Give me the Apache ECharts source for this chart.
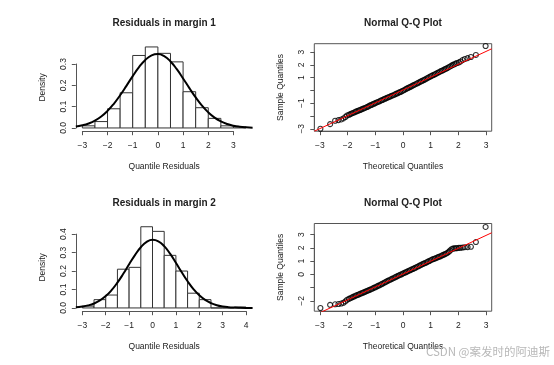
<!DOCTYPE html>
<html><head><meta charset="utf-8">
<script src="https://cdn.jsdelivr.net/npm/echarts@6/dist/echarts.min.js"></script>
<style>html,body{margin:0;padding:0;background:#fff}#c{width:554px;height:365px}</style>
</head><body><div id="c"></div>
<script>
// ---------------- data ----------------
const histBreaks1 = [-3,-2.5,-2,-1.5,-1,-0.5,0,0.5,1,1.5,2,2.5,3,3.5];
const histDensity1 = [0.01,0.03,0.09,0.165,0.34,0.38,0.35,0.31,0.17,0.095,0.045,0.01,0.005];
const curveX1 = [-3.26,-3,-2.75,-2.5,-2.25,-2,-1.75,-1.5,-1.25,-1,-0.75,-0.5,-0.25,0,0.25,0.5,0.75,1,1.25,1.5,1.75,2,2.25,2.5,2.75,3,3.25,3.5,3.76];
const curveY1 = [0.0066,0.0124,0.0212,0.0346,0.0538,0.0800,0.1134,0.1533,0.1976,0.2431,0.2852,0.3191,0.3406,0.3468,0.3368,0.3120,0.2756,0.2323,0.1867,0.1432,0.1047,0.0730,0.0486,0.0309,0.0187,0.0108,0.0059,0.0031,0.0015];

const histBreaks2 = [-3,-2.5,-2,-1.5,-1,-0.5,0,0.5,1,1.5,2,2.5,3,3.5,4];
const histDensity2 = [0.01,0.045,0.07,0.21,0.22,0.44,0.415,0.285,0.2,0.08,0.045,0,0,0.005];
const curveX2 = [-3.28,-3,-2.75,-2.5,-2.25,-2,-1.75,-1.5,-1.25,-1,-0.75,-0.5,-0.25,0,0.25,0.5,0.75,1,1.25,1.5,1.75,2,2.25,2.5,2.75,3,3.25,3.5,3.75,4,4.28];
const curveY2 = [0.0035,0.0074,0.0138,0.0243,0.0406,0.0643,0.0964,0.1372,0.1850,0.2365,0.2865,0.3290,0.3580,0.3693,0.3611,0.3347,0.2940,0.2448,0.1931,0.1445,0.1024,0.0688,0.0438,0.0265,0.0151,0.0082,0.0042,0.0021,0.0010,0.0004,0.0002];

const qqTheo = [-2.98,-2.63,-2.45,-2.33,-2.23,-2.15,-2.08,-2.02,
 -1.95,-1.9,-1.85,-1.8,-1.75,-1.7,-1.65,-1.6,-1.55,-1.5,-1.45,-1.4,-1.35,-1.3,-1.25,-1.2,-1.15,-1.1,-1.05,-1,
 -0.95,-0.9,-0.85,-0.8,-0.75,-0.7,-0.65,-0.6,-0.55,-0.5,-0.45,-0.4,-0.35,-0.3,-0.25,-0.2,-0.15,-0.1,-0.05,0,
 0.05,0.1,0.15,0.2,0.25,0.3,0.35,0.4,0.45,0.5,0.55,0.6,0.65,0.7,0.75,0.8,0.85,0.9,0.95,1,
 1.05,1.1,1.15,1.2,1.25,1.3,1.35,1.4,1.45,1.5,1.55,1.6,1.65,1.7,1.75,1.8,1.85,1.9,1.95,
 2.02,2.08,2.15,2.23,2.33,2.45,2.63,2.98];
const qqSample1 = [-3.00,-2.64,-2.37,-2.32,-2.27,-2.19,-2.08,-1.96,
 -1.90,-1.85,-1.80,-1.76,-1.71,-1.66,-1.62,-1.57,-1.53,-1.48,-1.44,-1.39,-1.35,-1.30,-1.25,-1.19,-1.14,-1.09,-1.04,-0.99,
 -0.94,-0.90,-0.85,-0.80,-0.75,-0.70,-0.65,-0.60,-0.55,-0.51,-0.46,-0.41,-0.37,-0.32,-0.27,-0.22,-0.17,-0.12,-0.07,-0.02,
 0.04,0.10,0.16,0.21,0.27,0.32,0.38,0.43,0.49,0.54,0.60,0.65,0.71,0.76,0.82,0.87,0.93,0.99,1.05,1.11,
 1.16,1.21,1.27,1.32,1.38,1.43,1.49,1.54,1.59,1.65,1.70,1.76,1.82,1.88,1.94,2.00,2.05,2.10,2.15,
 2.20,2.27,2.38,2.46,2.53,2.62,2.78,3.48];
const qqSample2 = [-2.54,-2.30,-2.26,-2.24,-2.20,-2.14,-2.04,-1.92,
 -1.85,-1.80,-1.75,-1.70,-1.65,-1.60,-1.56,-1.52,-1.47,-1.43,-1.39,-1.34,-1.30,-1.25,-1.21,-1.17,-1.12,-1.07,-1.02,-0.97,
 -0.92,-0.87,-0.82,-0.77,-0.71,-0.66,-0.60,-0.55,-0.49,-0.44,-0.39,-0.34,-0.29,-0.24,-0.18,-0.13,-0.08,-0.03,0.01,0.07,
 0.11,0.16,0.21,0.26,0.31,0.36,0.40,0.45,0.50,0.56,0.61,0.66,0.71,0.77,0.81,0.86,0.91,0.96,1.01,1.07,
 1.12,1.16,1.20,1.24,1.28,1.33,1.37,1.42,1.47,1.51,1.56,1.62,1.70,1.80,1.90,1.94,1.96,1.97,1.98,
 2.00,2.01,2.03,2.05,2.06,2.08,2.44,3.58];
const qqLine1 = [0.035, 1.008];   // intercept, slope
const qqLine2 = [0.023, 0.974];

const qqYLabels1 = [-3,-1,1,2,3];
const qqYLabels2 = [-2,0,1,2,3];

const titles = ['Residuals in margin 1','Normal Q-Q Plot','Residuals in margin 2','Normal Q-Q Plot'];
const xTitles = ['Quantile Residuals','Theoretical Quantiles'];
const yTitles = ['Density','Sample Quantiles'];

// ---------------- layout ----------------
const FONT = '"Liberation Sans", Arial, Helvetica, sans-serif';
const FS = 8.5;
const AX = '#555';
const TX = '#222';
const P = {
  h1:{left:75.8, top:43.7, width:176.8, height:87.5, xmin:-3.26, xmax:3.76, ymin:-0.0152, ymax:0.3952, xt:[-3,3], yt:[0,0.3], yi:0.1},
  q1:{left:314.3, top:43.7, width:177.4, height:87.5, xmin:-3.2, xmax:3.2, ymin:-3.19, ymax:3.66, xt:[-3,3], yt:[-3,3], yi:1},
  h2:{left:75.8, top:223.5, width:176.8, height:87.7, xmin:-3.28, xmax:4.28, ymin:-0.0176, ymax:0.4576, xt:[-3,4], yt:[0,0.4], yi:0.1},
  q2:{left:314.3, top:223.5, width:177.4, height:87.7, xmin:-3.2, xmax:3.2, ymin:-2.78, ymax:3.84, xt:[-3,3], yt:[-2,3], yi:1}
};
const px = (p,v) => p.left + (v - p.xmin)/(p.xmax - p.xmin)*p.width;
const py = (p,v) => p.top + (p.ymax - v)/(p.ymax - p.ymin)*p.height;
const minus = s => String(s).replace('-', '\u2212');

const grids = [], xAxes = [], yAxes = [], series = [], graphic = [];
const lbl = (extra) => Object.assign({fontSize:FS, color:TX, fontFamily:FONT, showMinLabel:true, showMaxLabel:true}, extra);

function panel(p, isQQ, yFmt) {
  const gi = grids.length;
  grids.push({left:p.left, top:p.top, width:p.width, height:p.height, show:isQQ, borderColor:AX, borderWidth:1, backgroundColor:'transparent', outerBoundsMode:'none'});
  xAxes.push({type:'value', gridIndex:gi, min:p.xmin, max:p.xmax, show:false});
  yAxes.push({type:'value', gridIndex:gi, min:p.ymin, max:p.ymax, show:false});
  const x0 = px(p,p.xt[0]), x1 = px(p,p.xt[1]), by = p.top + p.height;
  grids.push({left:x0, top:by-20, width:x1-x0, height:20, outerBoundsMode:'none'});
  xAxes.push({type:'value', gridIndex:gi+1, min:p.xt[0], max:p.xt[1], interval:1,
    axisLine:{show:true, onZero:false, lineStyle:{color:AX, width:1}},
    axisTick:{show:true, length:4, lineStyle:{color:AX, width:1}},
    axisLabel:lbl({margin:10, formatter:v => minus(Math.round(v))}),
    splitLine:{show:false}});
  yAxes.push({type:'value', gridIndex:gi+1, min:0, max:1, show:false});
  const y0 = py(p,p.yt[0]), y1 = py(p,p.yt[1]);
  grids.push({left:p.left, top:y1, width:20, height:y0-y1, outerBoundsMode:'none'});
  xAxes.push({type:'value', gridIndex:gi+2, min:0, max:1, show:false});
  yAxes.push({type:'value', gridIndex:gi+2, min:p.yt[0], max:p.yt[1], interval:p.yi,
    axisLine:{show:true, onZero:false, lineStyle:{color:AX, width:1}},
    axisTick:{show:true, length:4, lineStyle:{color:AX, width:1}},
    axisLabel:lbl({margin:8, rotate:90, formatter:yFmt}),
    splitLine:{show:false}});
  return gi;
}

function histPanel(p, breaks, dens, cx, cy, ti) {
  const gi = panel(p, false, v => (Math.round(v*10)/10).toFixed(1));
  series.push({type:'custom', xAxisIndex:gi, yAxisIndex:gi, silent:true,
    data: dens.map((d,i) => [breaks[i], breaks[i+1], d]),
    renderItem: (params, api) => {
      const a = api.coord([api.value(0), 0]);
      const b = api.coord([api.value(1), api.value(2)]);
      return {type:'rect', shape:{x:a[0], y:b[1], width:b[0]-a[0], height:a[1]-b[1]},
        style:{fill:'#fff', stroke:'#333', lineWidth:1}};
    }});
  series.push({type:'line', xAxisIndex:gi, yAxisIndex:gi, silent:true, smooth:true, symbol:'none',
    data: cx.map((x,i) => [x, cy[i]]), lineStyle:{color:'#000', width:2}, z:3});
  addTexts(p, ti, 0);
}

function qqPanel(p, sample, line, ylabs, ti) {
  const gi = panel(p, true, v => ylabs.indexOf(Math.round(v)) >= 0 ? minus(Math.round(v)) : '');
  series.push({type:'scatter', xAxisIndex:gi, yAxisIndex:gi, silent:true, symbol:'circle', symbolSize:5,
    data: qqTheo.map((x,i) => [x, sample[i]]),
    itemStyle:{color:'rgba(0,0,0,0)', borderColor:'#000', borderWidth:1.1}, z:2});
  series.push({type:'line', xAxisIndex:gi, yAxisIndex:gi, silent:true, symbol:'none',
    data: [[p.xmin, line[0] + line[1]*p.xmin], [p.xmax, line[0] + line[1]*p.xmax]],
    lineStyle:{color:'#ff0000', width:1}, z:4});
  addTexts(p, ti, 1);
}

function txt(x, y, text, font, rot) {
  const o = {type:'text', x:x, y:y, silent:true, z:10,
    style:{text:text, font:font, fill:TX, align:'center', verticalAlign:'middle', textAlign:'center', textVerticalAlign:'middle'}};
  if (rot) o.rotation = rot;
  return o;
}
function addTexts(p, ti, kind) {
  const cx = p.left + p.width/2, cy = p.top + p.height/2, by = p.top + p.height;
  graphic.push(txt(cx, p.top - 20.5, titles[ti], 'bold 10px ' + FONT));
  graphic.push(txt(cx, by + 35.5, xTitles[kind], FS + 'px ' + FONT));
  graphic.push(txt(p.left - 33.5, cy, yTitles[kind], FS + 'px ' + FONT, Math.PI/2));
}

histPanel(P.h1, histBreaks1, histDensity1, curveX1, curveY1, 0);
qqPanel(P.q1, qqSample1, qqLine1, qqYLabels1, 1);
histPanel(P.h2, histBreaks2, histDensity2, curveX2, curveY2, 2);
qqPanel(P.q2, qqSample2, qqLine2, qqYLabels2, 3);

graphic.push({type:'text', x:550, y:352, silent:true, z:10,
  style:{text:'CSDN @案发时的阿迪斯', font:'11.5px "Noto Sans CJK SC", sans-serif', fill:'#b8b8b8',
         align:'right', verticalAlign:'middle', textAlign:'right', textVerticalAlign:'middle'}});

const chart = echarts.init(document.getElementById('c'), null, {renderer:'canvas'});
chart.setOption({
  animation:false,
  backgroundColor:'#fff',
  grid:grids, xAxis:xAxes, yAxis:yAxes, series:series, graphic:graphic
});
</script></body></html>
